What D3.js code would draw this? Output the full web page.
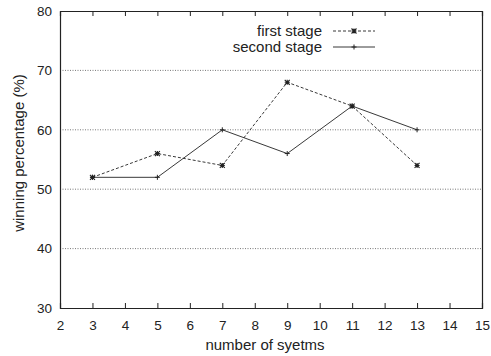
<!DOCTYPE html>
<html><head><meta charset="utf-8">
<script src="https://cdn.jsdelivr.net/npm/d3@7"></script>
<style>body{margin:0;background:#fff}text{font-family:"Liberation Sans",Arial,sans-serif;fill:#222}</style>
</head><body><svg id="c" width="491" height="356"></svg>
<script>
const xValues = [3, 5, 7, 9, 11, 13];
const firstStage = [52, 56, 54, 68, 64, 54];
const secondStage = [52, 52, 60, 56, 64, 60];
const xTicks = [2,3,4,5,6,7,8,9,10,11,12,13,14,15];
const yTicks = [30,40,50,60,70,80];
const seriesNames = ["first stage", "second stage"];

const svg = d3.select("#c");
const L=60, R=482, T=11, B=308;
const x = d3.scaleLinear().domain([2,15]).range([L,R]);
const y = d3.scaleLinear().domain([30,80]).range([B,T]);

// grid
svg.append("g").selectAll("line").data(yTicks.filter(v=>v>30&&v<80)).join("line")
  .attr("x1",L).attr("x2",R).attr("y1",d=>y(d)).attr("y2",d=>y(d))
  .attr("stroke","#555").attr("stroke-width",0.8).attr("stroke-dasharray","1,1.5");

// axes
const bx = svg.append("g").attr("transform",`translate(0,${B})`)
  .call(d3.axisBottom(x).tickValues(xTicks).tickSize(-5).tickPadding(12));
const tx = svg.append("g").attr("transform",`translate(0,${T})`)
  .call(d3.axisTop(x).tickValues(xTicks).tickSize(-5).tickFormat(""));
const ly = svg.append("g").attr("transform",`translate(${L},0)`)
  .call(d3.axisLeft(y).tickValues(yTicks).tickSize(0).tickPadding(8));
const ry = svg.append("g").attr("transform",`translate(${R},0)`)
  .call(d3.axisRight(y).tickValues(yTicks).tickSize(0).tickFormat(""));
[bx,tx,ly,ry].forEach(g=>{
  g.select(".domain").attr("stroke","#222").attr("stroke-width",1.2);
  g.selectAll(".tick line").attr("stroke","#222");
  g.selectAll("text").attr("font-size",13.5).attr("font-family","Liberation Sans, Arial, sans-serif").attr("fill","#222");
});

svg.append("text").attr("x",265).attr("y",350).attr("text-anchor","middle").attr("font-size",15).text("number of syetms");
svg.append("text").attr("transform",`translate(24,153) rotate(-90)`).attr("text-anchor","middle").attr("font-size",15).text("winning percentage (%)");

const line = d3.line().x((d,i)=>x(xValues[i])).y(d=>y(d));
svg.append("path").datum(firstStage).attr("d",line).attr("fill","none").attr("stroke","#222").attr("stroke-width",0.9).attr("stroke-dasharray","3,2");
svg.append("path").datum(secondStage).attr("d",line).attr("fill","none").attr("stroke","#222").attr("stroke-width",0.9);

function starMark(g,cx,cy){
  const s=2.5;
  g.append("path").attr("d",`M${cx-s},${cy-s}L${cx+s},${cy+s}M${cx-s},${cy+s}L${cx+s},${cy-s}M${cx-s},${cy}L${cx+s},${cy}M${cx},${cy-s}L${cx},${cy+s}`).attr("stroke","#222").attr("stroke-width",1.1);
}
function plusMark(g,cx,cy){
  const s=2.5;
  g.append("path").attr("d",`M${cx-s},${cy}L${cx+s},${cy}M${cx},${cy-s}L${cx},${cy+s}`).attr("stroke","#222").attr("stroke-width",1);
}
const mg = svg.append("g");
firstStage.forEach((v,i)=>starMark(mg,x(xValues[i]),y(v)));
secondStage.forEach((v,i)=>plusMark(mg,x(xValues[i]),y(v)));

// legend
const lg = svg.append("g");
const ly0 = [31, 47];
seriesNames.forEach((n,i)=>{
  lg.append("text").attr("x",322).attr("y",ly0[i]+5).attr("text-anchor","end").attr("font-size",15).text(n);
  lg.append("line").attr("x1",333).attr("x2",375).attr("y1",ly0[i]).attr("y2",ly0[i]).attr("stroke","#222").attr("stroke-width",0.9).attr("stroke-dasharray",i===0?"3,2":null);
  if(i===0) starMark(lg,354,ly0[i]); else plusMark(lg,354,ly0[i]);
});
</script></body></html>
